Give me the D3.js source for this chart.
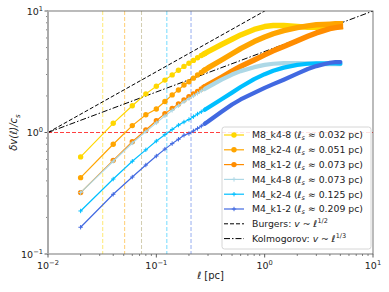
<!DOCTYPE html>
<html>
<head>
<meta charset="utf-8">
<script src="https://cdn.jsdelivr.net/npm/d3@7"></script>
<style>
  body { margin: 0; background: #fff; }
  svg { font-family: 'DejaVu Sans', sans-serif; }
</style>
</head>
<body>
<div id="container"></div>
<script>
const w = 389,
  h = 292;
const padLeft = 48,
  padRight = 373,
  padTop = 11,
  padBottom = 254;

// separation scale, pc
const ell = [0.02, 0.04, 0.06, 0.08, 0.1, 0.12, 0.14, 0.16, 0.18, 0.2, 0.22, 0.24, 0.26, 0.28, 0.3,
  0.4, 0.5, 0.6, 0.8, 1.0, 1.2, 1.5, 2.0, 2.5, 3.0, 3.5, 4.0, 4.5, 5.0];

const m8k48 = [0.63, 1.19, 1.66, 2.08, 2.4, 2.7, 2.98, 3.25, 3.5, 3.72, 3.92, 4.12, 4.3, 4.47, 4.63,
  5.3, 5.85, 6.35, 7.05, 7.45, 7.6, 7.6, 7.45, 7.35, 7.35, 7.4, 7.45, 7.45, 7.45];
const m8k24 = [0.425, 0.8, 1.14, 1.4, 1.56, 1.8, 2.04, 2.24, 2.46, 2.62, 2.8, 2.97, 3.12, 3.27, 3.4,
  3.95, 4.45, 4.9, 5.6, 6.1, 6.5, 6.9, 7.3, 7.55, 7.7, 7.75, 7.8, 7.85, 7.85];
const m8k12 = [0.32, 0.59, 0.84, 1.05, 1.25, 1.43, 1.58, 1.72, 1.85, 1.97, 2.08, 2.18, 2.28, 2.38, 2.47,
  2.85, 3.2, 3.5, 3.95, 4.35, 4.7, 5.1, 5.7, 6.2, 6.6, 6.9, 7.15, 7.3, 7.4];
const m4k48 = [0.32, 0.58, 0.82, 1.02, 1.2, 1.37, 1.52, 1.66, 1.79, 1.9, 2.0, 2.1, 2.2, 2.28, 2.36,
  2.72, 3.0, 3.2, 3.45, 3.6, 3.68, 3.72, 3.72, 3.7, 3.68, 3.66, 3.65, 3.65, 3.65];
const m4k24 = [0.226, 0.414, 0.58, 0.72, 0.85, 0.96, 1.06, 1.15, 1.22, 1.28, 1.35, 1.42, 1.48, 1.54, 1.6,
  1.88, 2.13, 2.37, 2.75, 3.02, 3.22, 3.42, 3.6, 3.68, 3.7, 3.7, 3.7, 3.7, 3.68];
const m4k12 = [0.166, 0.31, 0.43, 0.54, 0.64, 0.73, 0.81, 0.88, 0.95, 0.98, 1.03, 1.08, 1.13, 1.18, 1.23,
  1.48, 1.7, 1.87, 2.12, 2.33, 2.5, 2.72, 3.05, 3.33, 3.52, 3.65, 3.75, 3.8, 3.8];

const names = ['M8_k4-8', 'M8_k2-4', 'M8_k1-2', 'M4_k4-8', 'M4_k2-4', 'M4_k1-2'];
const sonic = [0.032, 0.051, 0.073, 0.073, 0.125, 0.209];
const colors = ['#FFD700', '#FFA500', '#FF8C00', '#ADD8E6', '#00BFFF', '#4169E1'];
const markers = ['o', 'o', 'o', '+', '+', '+'];
const values = [m8k48, m8k24, m8k12, m4k48, m4k24, m4k12];

const xMajor = [0.01, 0.1, 1, 10];
const xLabels = ['-2', '-1', '0', '1'];
const yMajor = [0.1, 1, 10];
const yLabels = ['-1', '0', '1'];

const svg = d3.select('#container').append('svg').attr('width', w).attr('height', h);

const x = d3.scaleLog().domain([0.01, 10]).range([padLeft, padRight]);
const y = d3.scaleLog().domain([0.1, 10]).range([padBottom, padTop]);

const clip = svg.append('clipPath').attr('id', 'plot-clip');
clip.append('rect').attr('x', padLeft).attr('y', padTop)
  .attr('width', padRight - padLeft).attr('height', padBottom - padTop);

const plot = svg.append('g').attr('clip-path', 'url(#plot-clip)');

// sonic scales
sonic.forEach((s, i) => {
  plot.append('line')
    .attr('x1', x(s)).attr('x2', x(s))
    .attr('y1', padTop).attr('y2', padBottom)
    .attr('stroke', colors[i])
    .attr('stroke-opacity', 0.55)
    .attr('stroke-width', 1)
    .attr('stroke-dasharray', '4,2');
});

// v = c_s
plot.append('line')
  .attr('x1', padLeft).attr('x2', padRight)
  .attr('y1', y(1)).attr('y2', y(1))
  .attr('stroke', 'red').attr('stroke-opacity', 0.75)
  .attr('stroke-width', 1.2).attr('stroke-dasharray', '4,2');

// reference power laws through (0.01, 1)
const refX = [0.01, 10];
plot.append('path')
  .attr('d', d3.line().x((d) => x(d)).y((d) => y(Math.pow(d / 0.01, 0.5)))(refX))
  .attr('fill', 'none').attr('stroke', '#000').attr('stroke-width', 1)
  .attr('stroke-dasharray', '4,2');
plot.append('path')
  .attr('d', d3.line().x((d) => x(d)).y((d) => y(Math.pow(d / 0.01, 1 / 3)))(refX))
  .attr('fill', 'none').attr('stroke', '#000').attr('stroke-width', 1)
  .attr('stroke-dasharray', '6,2,1.5,2');

const line = d3.line().x((d) => x(d[0])).y((d) => y(d[1]));

function drawMarker(g, m, cx, cy, color) {
  if (m === 'o') {
    g.append('circle').attr('cx', cx).attr('cy', cy).attr('r', 2.7).attr('fill', color);
  } else {
    g.append('path')
      .attr('d', `M${cx - 2.2},${cy}H${cx + 2.2}M${cx},${cy - 2.2}V${cy + 2.2}`)
      .attr('stroke', color).attr('stroke-width', 1);
  }
}

values.forEach((vals, i) => {
  const pts = ell.map((l, j) => [l, vals[j]]);
  const g = plot.append('g');
  g.append('path')
    .attr('d', line(pts))
    .attr('fill', 'none').attr('stroke', colors[i]).attr('stroke-width', 1.2);
  // markers blend into a band where they crowd together
  const dense = pts.filter((d) => d[0] >= 0.28);
  g.append('path')
    .attr('d', line(dense))
    .attr('fill', 'none').attr('stroke', colors[i])
    .attr('stroke-width', markers[i] === 'o' ? 5.4 : 4.2)
    .attr('stroke-linecap', markers[i] === 'o' ? 'square' : 'round')
    .attr('stroke-linejoin', 'round');
  pts.filter((d) => d[0] < 0.3).forEach((d) => drawMarker(g, markers[i], x(d[0]), y(d[1]), colors[i]));
});

// minor ticks
const minor = [];
[0.01, 0.1, 1].forEach((dec) => {
  for (let k = 2; k <= 9; k++) minor.push(dec * k);
});
const minorY = minor.filter((d) => d > 0.1 && d < 10);

const axes = svg.append('g');
minor.forEach((d) => {
  axes.append('line').attr('x1', x(d)).attr('x2', x(d)).attr('y1', padBottom).attr('y2', padBottom + 2)
    .attr('stroke', '#333').attr('stroke-width', 0.6);
});
minorY.forEach((d) => {
  axes.append('line').attr('x1', padLeft).attr('x2', padLeft - 2).attr('y1', y(d)).attr('y2', y(d))
    .attr('stroke', '#333').attr('stroke-width', 0.6);
});
xMajor.forEach((d, i) => {
  axes.append('line').attr('x1', x(d)).attr('x2', x(d)).attr('y1', padBottom).attr('y2', padBottom + 3.5)
    .attr('stroke', '#333').attr('stroke-width', 0.8);
  const t = axes.append('text').attr('x', x(d)).attr('y', padBottom + 15)
    .attr('text-anchor', 'middle').attr('font-size', 9.5).attr('fill', '#222');
  t.append('tspan').text('10');
  t.append('tspan').attr('dy', -4).attr('font-size', 6.7).text(xLabels[i].replace('-', '\u2212'));
});
yMajor.forEach((d, i) => {
  axes.append('line').attr('x1', padLeft).attr('x2', padLeft - 3.5).attr('y1', y(d)).attr('y2', y(d))
    .attr('stroke', '#333').attr('stroke-width', 0.8);
  const t = axes.append('text').attr('x', padLeft - 5).attr('y', y(d) + 3.5)
    .attr('text-anchor', 'end').attr('font-size', 9.5).attr('fill', '#222');
  t.append('tspan').text('10');
  t.append('tspan').attr('dy', -4).attr('font-size', 6.7).text(yLabels[i].replace('-', '\u2212'));
});

// spines
axes.append('rect').attr('x', padLeft).attr('y', padTop)
  .attr('width', padRight - padLeft).attr('height', padBottom - padTop)
  .attr('fill', 'none').attr('stroke', '#555').attr('stroke-width', 0.8);
axes.append('line').attr('x1', padLeft).attr('x2', padLeft).attr('y1', padTop).attr('y2', padBottom)
  .attr('stroke', '#aaa').attr('stroke-width', 2);

// axis labels
const xl = svg.append('text').attr('x', (padLeft + padRight) / 2).attr('y', 279)
  .attr('text-anchor', 'middle').attr('font-size', 10).attr('fill', '#222');
xl.append('tspan').attr('font-style', 'italic').text('\u2113');
xl.append('tspan').text(' [pc]');

const yl = svg.append('text')
  .attr('transform', `translate(17,${(padTop + padBottom) / 2}) rotate(-90)`)
  .attr('text-anchor', 'middle').attr('font-size', 10).attr('fill', '#222')
  .attr('font-style', 'italic');
yl.append('tspan').text('\u03b4v(\u2113)/c');
yl.append('tspan').attr('dy', 2.5).attr('font-size', 7).text('s');

// legend
const lg = svg.append('g');
const lx = 222,
  ly = 127,
  rowH = 14.8;
lg.append('rect').attr('x', lx).attr('y', ly).attr('width', 149).attr('height', 122)
  .attr('rx', 2.5).attr('fill', '#fff').attr('fill-opacity', 0.85)
  .attr('stroke', '#ccc').attr('stroke-width', 0.8);

names.forEach((n, i) => {
  const cy = ly + 8 + i * rowH;
  lg.append('line').attr('x1', lx + 2).attr('x2', lx + 22).attr('y1', cy).attr('y2', cy)
    .attr('stroke', colors[i]).attr('stroke-width', 1.2);
  drawMarker(lg, markers[i], lx + 12, cy, colors[i]);
  const t = lg.append('text').attr('x', lx + 30).attr('y', cy + 3.4).attr('font-size', 9.3).attr('fill', '#222');
  t.append('tspan').text(n + ' (');
  t.append('tspan').attr('font-style', 'italic').text('\u2113');
  t.append('tspan').attr('font-style', 'italic').attr('font-size', 6.5).attr('dy', 2).text('s');
  t.append('tspan').attr('dy', -2).text(' \u2248 ' + sonic[i].toFixed(3) + ' pc)');
});

const refNames = [['Burgers: ', '1/2', '4,2'], ['Kolmogorov: ', '1/3', '6,2,1.5,2']];
refNames.forEach((r, k) => {
  const cy = ly + 8 + (6 + k) * rowH;
  lg.append('line').attr('x1', lx + 2).attr('x2', lx + 22).attr('y1', cy).attr('y2', cy)
    .attr('stroke', '#000').attr('stroke-width', 1).attr('stroke-dasharray', r[2]);
  const t = lg.append('text').attr('x', lx + 30).attr('y', cy + 3.4).attr('font-size', 9.3).attr('fill', '#222');
  t.append('tspan').text(r[0]);
  t.append('tspan').attr('font-style', 'italic').text('v');
  t.append('tspan').text(' ~ ');
  t.append('tspan').attr('font-style', 'italic').text('\u2113');
  t.append('tspan').attr('font-size', 6.5).attr('dy', -4).text(r[1]);
});
</script>
</body>
</html>
